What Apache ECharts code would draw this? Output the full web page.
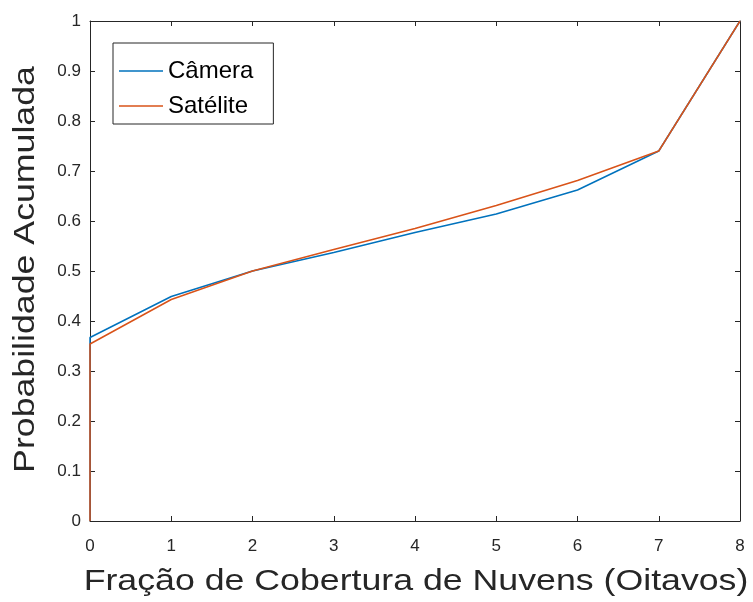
<!DOCTYPE html>
<html>
<head>
<meta charset="utf-8">
<script src="https://cdn.jsdelivr.net/npm/echarts@6/dist/echarts.min.js"></script>
<style>html,body{margin:0;padding:0;background:#fff;}#c{width:753px;height:602px;}</style>
</head>
<body>
<div id="c"></div>
<script>
var xTicks = [0, 1, 2, 3, 4, 5, 6, 7, 8];
var cameraX = [0, 0, 1, 2, 3, 4, 5, 6, 7, 8];
var cameraY = [0, 0.367, 0.449, 0.500, 0.537, 0.577, 0.614, 0.662, 0.740, 1.0];
var satX = [0, 0, 1, 2, 3, 4, 5, 6, 7, 8];
var satY = [0, 0.354, 0.443, 0.500, 0.543, 0.585, 0.631, 0.681, 0.740, 1.0];
var seriesNames = ['Câmera', 'Satélite'];
var xTitle = 'Fração de Cobertura de Nuvens (Oitavos)';
var yTitle = 'Probabilidade Acumulada';

function pairs(xs, ys) { return xs.map(function (x, i) { return [x, ys[i]]; }); }

var axisCol = '#262626';
var font = 'Liberation Sans, Arial, sans-serif';
var baseAxis = {
  min: 0,
  axisLine: { show: true, onZero: false, lineStyle: { color: axisCol, width: 1 } },
  axisTick: { show: true, inside: true, length: 5, lineStyle: { color: axisCol } },
  splitLine: { show: false }
};

var chart = echarts.init(document.getElementById('c'), null, { renderer: 'canvas' });
chart.setOption({
  backgroundColor: '#fff',
  animation: false,
  textStyle: { fontFamily: font },
  grid: { left: 90, top: 21, width: 650, height: 500, containLabel: false },
  legend: {
    data: seriesNames,
    orient: 'vertical',
    left: 113,
    top: 43,
    padding: [15, 20, 5, 6],
    icon: 'rect',
    itemWidth: 44,
    itemHeight: 1.5,
    itemGap: 9,
    borderColor: axisCol,
    borderWidth: 1,
    backgroundColor: '#fff',
    textStyle: { fontSize: 24, color: '#000', fontFamily: font, lineHeight: 26 }
  },
  graphic: [
    {
      type: 'text', x: 416, y: 581.5, scaleX: 1.19, silent: true,
      style: { text: xTitle, font: '30px Liberation Sans, Arial, sans-serif',
        fill: axisCol, align: 'center', verticalAlign: 'middle' }
    },
    {
      type: 'text', x: 25.6, y: 269.5, rotation: Math.PI / 2, scaleX: 1.19, silent: true,
      style: { text: yTitle, font: '30px Liberation Sans, Arial, sans-serif',
        fill: axisCol, align: 'center', verticalAlign: 'middle' }
    }
  ],
  xAxis: [
    Object.assign({}, baseAxis, {
      type: 'value', max: 8, interval: 1, position: 'bottom',
      axisLabel: { fontSize: 17, color: axisCol, margin: 17, fontFamily: font }
    }),
    Object.assign({}, baseAxis, {
      type: 'value', max: 8, interval: 1, position: 'top',
      axisLabel: { show: false }
    })
  ],
  yAxis: [
    Object.assign({}, baseAxis, {
      type: 'value', max: 1, interval: 0.1, position: 'left',
      axisLabel: { fontSize: 17, color: axisCol, margin: 9, fontFamily: font,
        formatter: function (v) { return String(Math.round(v * 10) / 10); } }
    }),
    Object.assign({}, baseAxis, {
      type: 'value', max: 1, interval: 0.1, position: 'right',
      axisLabel: { show: false }
    })
  ],
  series: [
    {
      name: seriesNames[0], type: 'line', xAxisIndex: 0, yAxisIndex: 0,
      data: pairs(cameraX, cameraY), symbol: 'none',
      lineStyle: { color: '#0072BD', width: 1.5 }, itemStyle: { color: '#0072BD' }
    },
    {
      name: seriesNames[1], type: 'line', xAxisIndex: 0, yAxisIndex: 0,
      data: pairs(satX, satY), symbol: 'none',
      lineStyle: { color: '#D95319', width: 1.5 }, itemStyle: { color: '#D95319' }
    }
  ]
});
</script>
</body>
</html>
